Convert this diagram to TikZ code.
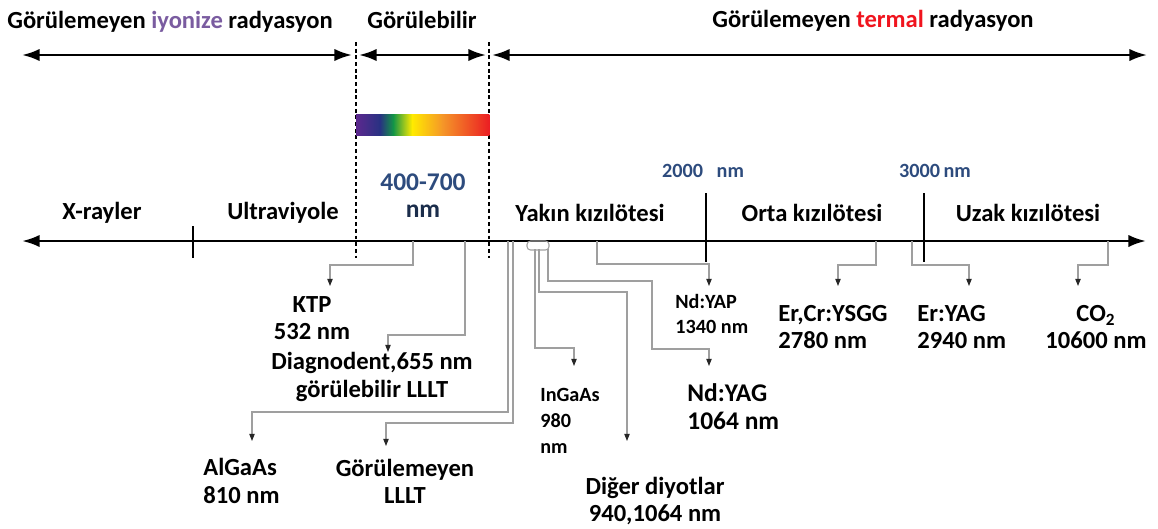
\documentclass[tikz,border=0pt]{standalone}
\usepackage{fontspec}
\setmainfont{Carlito}
\usetikzlibrary{arrows.meta}

\definecolor{ionpurple}{RGB}{122,92,160}
\definecolor{heatred}{RGB}{240,20,30}
\definecolor{nmblue}{RGB}{45,75,125}
\definecolor{vpurple}{RGB}{92,40,142}
\definecolor{vblue}{RGB}{40,50,130}
\definecolor{vgreen}{RGB}{20,150,70}
\definecolor{vyellow}{RGB}{255,235,0}
\definecolor{vorange}{RGB}{245,150,40}
\definecolor{vred}{RGB}{235,30,35}

\begin{document}
\begin{tikzpicture}[
    x=0.02cm, y=-0.02cm,
    rangearrow/.style={
        {Latex[length=10pt, width=7pt]}-{Latex[length=10pt, width=7pt]},
        line width=1.4pt
    },
    axisline/.style={
        {Latex[length=10pt, width=7pt]}-{Latex[length=10pt, width=7pt]},
        line width=1.5pt
    },
    border/.style={
        dash pattern=on 2.2pt off 1.6pt,
        line width=1.3pt
    },
    tickmark/.style={line width=1.3pt},
    link/.style={
        draw=gray!75,
        line width=0.6pt,
        -{Triangle[length=4pt, width=3pt, color=black!85]}
    },
    lbl/.style={
        font=\bfseries\fontsize{14}{15.5}\selectfont,
        align=center,
        inner sep=0pt
    },
    smalllbl/.style={
        font=\bfseries\fontsize{11.5}{14.7}\selectfont,
        align=left,
        inner sep=0pt
    }
]
\useasboundingbox (0,0) rectangle (1158,528);

% Geometry parameters
\def\ytop{55}     % range arrows
\def\yax{241}     % spectrum axis
\def\xv{356}      % visible band, left
\def\xr{489}      % visible band, right

% Radiation ranges
\node[lbl] (ionize) at (170,22) {Görülemeyen \textcolor{ionpurple}{iyonize} radyasyon};
\node[lbl] (visible) at (422,20) {Görülebilir};
\node[lbl] (thermal) at (873,21) {Görülemeyen \textcolor{heatred}{termal} radyasyon};
\draw[rangearrow] (22,\ytop) -- (352,\ytop);
\draw[rangearrow] (359,\ytop) -- (486,\ytop);
\draw[rangearrow] (492,\ytop) -- (1147,\ytop);

% Visible band borders
\draw[border] (\xv,42) -- (\xv,258);
\draw[border] (\xr,42) -- (\xr,258);

% Rainbow bar
\foreach \a/\b/\ca/\cb in {0/0.18/vpurple/vblue, 0.18/0.28/vblue/vgreen,
    0.28/0.42/vgreen/vyellow, 0.42/0.65/vyellow/vorange, 0.65/1/vorange/vred}{
  \shade[left color=\ca, right color=\cb]
    ({\xv+\a*(\xr-\xv)},114) rectangle ({\xv+\b*(\xr-\xv)+0.3},135);
}

\node[lbl, font=\bfseries\fontsize{14.5}{15.5}\selectfont] (band) at (423,196)
    {\textcolor{nmblue}{400-700}\\\textcolor{nmblue!60!black}{nm}};

% Axis and ticks
\draw[axisline] (22,\yax) -- (1146,\yax);
\draw[tickmark] (193,226) -- (193,258);
\draw[tickmark] (706,193) -- (706,262);
\draw[tickmark] (924,193) -- (924,262);
\node[smalllbl, text=nmblue] (nm2000) at (703,171) {2000\ \ \ nm};
\node[smalllbl, text=nmblue] (nm3000) at (935,171) {3000\,nm};

% Region names
\node[lbl] (xray) at (102,213) {X-rayler};
\node[lbl] (uv) at (283,213) {Ultraviyole};
\node[lbl] (nir) at (590,213) {Yakın kızılötesi};
\node[lbl] (mir) at (812,213) {Orta kızılötesi};
\node[lbl] (fir) at (1028,213) {Uzak kızılötesi};

% Laser labels
\node[lbl] (ktp) at (312,318) {KTP\\532 nm};
\node[lbl] (diag) at (372,377) {Diagnodent,655 nm\\görülebilir LLLT};
\node[lbl, anchor=west, align=left] (algaas) at (203,481) {AlGaAs\\810 nm};
\node[lbl] (lllt) at (405,481) {Görülemeyen\\LLLT};
\node[smalllbl, anchor=west] (ingaas) at (540,421) {InGaAs\\980\\nm};
\node[lbl] (diger) at (655,501) {Diğer diyotlar\\940,1064 nm};
\node[smalllbl, anchor=west] (ndyap) at (675,314) {Nd:YAP\\1340 nm};
\node[lbl, anchor=west, align=left, font=\bfseries\fontsize{14.5}{16}\selectfont]
    (ndyag) at (687,407) {Nd:YAG\\1064 nm};
\node[lbl, anchor=west, align=left] (ercr) at (778,327) {Er,Cr:YSGG\\2780 nm};
\node[lbl, anchor=west, align=left] (eryag) at (917,327) {Er:YAG\\2940 nm};
\node[lbl] (co2) at (1096,327) {CO\textsubscript{2}\\10600 nm};

% Connector ends
\coordinate (ktpS) at (413,\yax);   \coordinate (ktpT) at (330,286);
\coordinate (diagS) at (465,\yax);  \coordinate (diagT) at (388,352);
\coordinate (algaasS) at (508,\yax); \coordinate (algaasT) at (252,441);
\coordinate (llltS) at (513,\yax);  \coordinate (llltT) at (386,446);
\coordinate (ingaasS) at (535,249); \coordinate (ingaasT) at (574,366);
\coordinate (digerS) at (539,249);  \coordinate (digerT) at (627,441);
\coordinate (ndyagS) at (548,249);  \coordinate (ndyagT) at (709,366);
\coordinate (ndyapS) at (597,\yax); \coordinate (ndyapT) at (709,286);
\coordinate (ercrS) at (876,\yax);  \coordinate (ercrT) at (838,286);
\coordinate (eryagS) at (912,\yax); \coordinate (eryagT) at (969,286);
\coordinate (co2S) at (1108,\yax);  \coordinate (co2T) at (1078,286);

% Connectors
\draw[gray!75, line width=0.6pt, rounded corners=2pt] (527,\yax) rectangle (549,250);
\draw[link] (ktpS) -- ++(0,24) -| (ktpT);
\draw[link] (diagS) -- ++(0,94) -| (diagT);
\draw[link] (algaasS) -- ++(0,171) -| (algaasT);
\draw[link] (llltS) -- ++(0,182) -| (llltT);
\draw[link] (ingaasS) -- ++(0,99) -| (ingaasT);
\draw[link] (digerS) -- ++(0,43) -| (digerT);
\draw[link] (ndyagS) |- (652,281) -- (652,349) -| (ndyagT);
\draw[link] (ndyapS) -- ++(0,23) -| (ndyapT);
\draw[link] (ercrS) -- ++(0,24) -| (ercrT);
\draw[link] (eryagS) -- ++(0,24) -| (eryagT);
\draw[link] (co2S) -- ++(0,24) -| (co2T);

\end{tikzpicture}
\end{document}
